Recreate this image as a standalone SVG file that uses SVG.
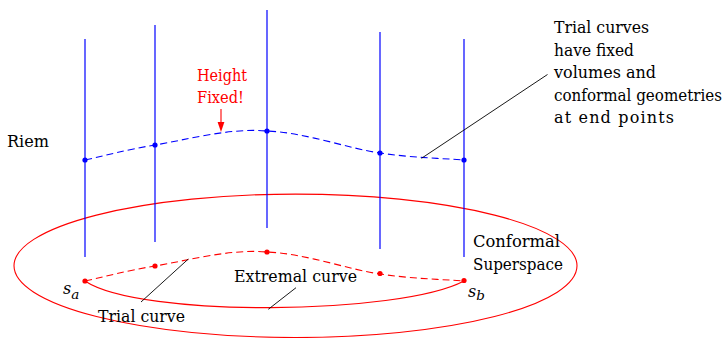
<svg xmlns="http://www.w3.org/2000/svg" width="728" height="338" viewBox="0 0 728 338">
<style>
text{font-family:"DejaVu Serif","Liberation Serif",serif;font-size:16px;fill:#000}
.red{fill:#ff0000}
.it{font-style:italic}
.fib{stroke:#0000ff;stroke-width:1.2;fill:none}
.bdash{stroke:#0000ff;stroke-width:1.1;fill:none;stroke-dasharray:7 4}
.rdash{stroke:#ff0000;stroke-width:1.1;fill:none;stroke-dasharray:7 4}
.rline{stroke:#ff0000;stroke-width:1.1;fill:none}
.ptr{stroke:#000;stroke-width:0.9;fill:none}
.bdot{fill:#0000ff}
.rdot{fill:#ff0000}
</style>
<rect width="728" height="338" fill="#fff"/>
<g id="superspace">
<ellipse cx="295.5" cy="265.8" rx="281.5" ry="71.7" class="rline"/>
</g>
<g id="fibres">
<line x1="85" y1="39" x2="85" y2="257" class="fib"/>
<line x1="155" y1="25" x2="155" y2="242" class="fib"/>
<line x1="267" y1="10" x2="267" y2="228" class="fib"/>
<line x1="380" y1="32" x2="380" y2="249" class="fib"/>
<line x1="464" y1="39" x2="464" y2="257" class="fib"/>
</g>
<g id="connectors">
<path id="riem-curve" d="M85,160 C108,155 125,150 155,145 C185,140.2 229.5,127.5 267,131 C304.5,132.3 347.2,148.2 380,153 C412.8,157.8 436,158 464,160" class="bdash"/>
<path id="trial-curve" d="M85,160 C108,155 125,150 155,145 C185,140.2 229.5,127.5 267,131 C304.5,132.3 347.2,148.2 380,153 C412.8,157.8 436,158 464,160" class="rdash" transform="translate(0,121)"/>
<path id="extremal-curve" d="M85,281 C140,318 400,315 464,281" class="rline"/>
<line x1="221" y1="109" x2="221" y2="124" stroke="#ff0000" stroke-width="1.1"/>
<polygon points="221,132 217.6,122 224.4,122" fill="#ff0000"/>
<line x1="421.5" y1="158.3" x2="547.5" y2="74.5" class="ptr"/>
<line x1="188.3" y1="259" x2="141" y2="302" class="ptr"/>
<line x1="296" y1="287.7" x2="268.3" y2="309.3" class="ptr"/>
</g>
<g id="blue-points">
<circle cx="85" cy="160" r="2.6" class="bdot"/>
<circle cx="155" cy="145" r="2.6" class="bdot"/>
<circle cx="267" cy="131" r="2.6" class="bdot"/>
<circle cx="380" cy="153" r="2.6" class="bdot"/>
<circle cx="464" cy="160" r="2.6" class="bdot"/>
</g>
<g id="red-points">
<circle cx="85" cy="281" r="2.6" class="rdot"/>
<circle cx="155" cy="266" r="2.6" class="rdot"/>
<circle cx="267" cy="252" r="2.6" class="rdot"/>
<circle cx="380" cy="273.5" r="2.6" class="rdot"/>
<circle cx="464" cy="280.5" r="2.6" class="rdot"/>
</g>
<g id="label-riem"><text x="7" y="147" textLength="42" lengthAdjust="spacingAndGlyphs">Riem</text></g>
<g id="label-height">
<text x="197" y="80.7" class="red" textLength="50" lengthAdjust="spacingAndGlyphs">Height</text>
<text x="197" y="103.3" class="red" textLength="47" lengthAdjust="spacingAndGlyphs">Fixed!</text>
</g>
<g id="label-trial-curves">
<text x="554" y="32.7" textLength="95" lengthAdjust="spacingAndGlyphs">Trial curves</text>
<text x="554" y="55.7" textLength="80" lengthAdjust="spacingAndGlyphs">have fixed</text>
<text x="554" y="78" textLength="102" lengthAdjust="spacingAndGlyphs">volumes and</text>
<text x="554" y="100.7" font-size="14" textLength="168" lengthAdjust="spacingAndGlyphs">conformal geometries</text>
<text x="554" y="123" textLength="120" lengthAdjust="spacing">at end points</text>
</g>
<g id="label-conformal">
<text x="473" y="246.7" textLength="87" lengthAdjust="spacingAndGlyphs">Conformal</text>
<text x="473" y="270" textLength="90" lengthAdjust="spacingAndGlyphs">Superspace</text>
</g>
<g id="label-sa"><text x="63" y="294" class="it" font-size="19">s<tspan font-size="13.5" dy="5">a</tspan></text></g>
<g id="label-sb"><text x="468" y="297" class="it" font-size="19">s<tspan font-size="13.5" dy="3">b</tspan></text></g>
<g id="label-extremal"><text x="234" y="282" textLength="123" lengthAdjust="spacingAndGlyphs">Extremal curve</text></g>
<g id="label-trial"><text x="98" y="322" textLength="87" lengthAdjust="spacingAndGlyphs">Trial curve</text></g>
</svg>
